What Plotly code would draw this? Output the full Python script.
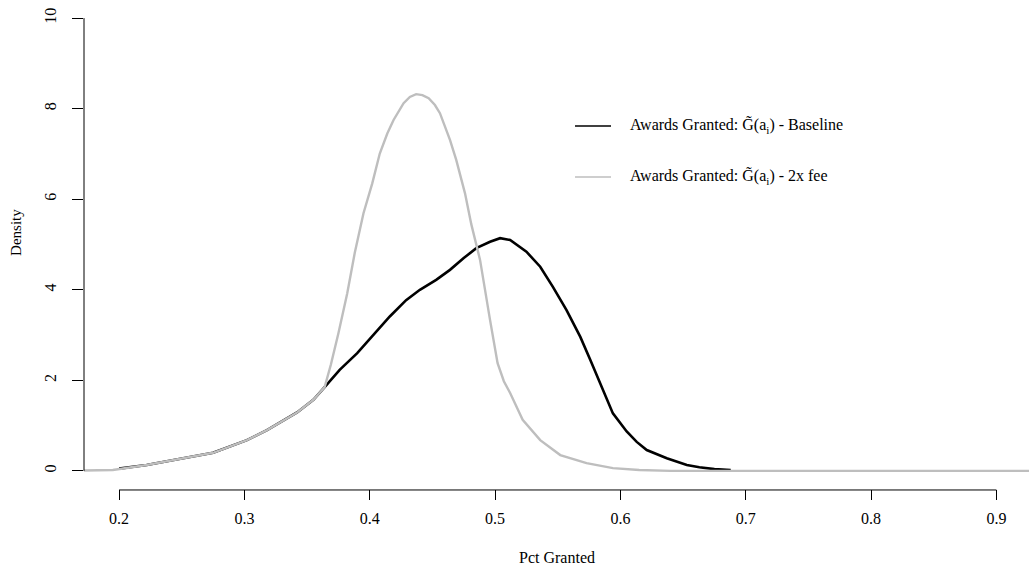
import plotly.graph_objects as go

# Baseline (black) density curve
base_x = [0.200, 0.222, 0.249, 0.275, 0.302, 0.318, 0.342, 0.355, 0.364, 0.376, 0.390,
          0.403, 0.416, 0.429, 0.440, 0.453, 0.464, 0.475, 0.485, 0.496, 0.504, 0.512,
          0.520, 0.525, 0.536, 0.546, 0.557, 0.568, 0.576, 0.584, 0.594, 0.605, 0.613,
          0.621, 0.637, 0.653, 0.663, 0.675, 0.688]
base_y = [0.05, 0.13, 0.27, 0.40, 0.68, 0.90, 1.29, 1.57, 1.85, 2.23, 2.60,
          3.00, 3.41, 3.77, 4.00, 4.22, 4.44, 4.70, 4.92, 5.06, 5.14, 5.10,
          4.95, 4.84, 4.51, 4.07, 3.55, 2.96, 2.45, 1.94, 1.27, 0.87, 0.64,
          0.46, 0.28, 0.13, 0.08, 0.04, 0.02]

# 2x fee (grey) density curve
fee_x = [0.150, 0.173, 0.195, 0.222, 0.249, 0.275, 0.302, 0.318, 0.342, 0.355, 0.364,
         0.369, 0.375, 0.382, 0.388, 0.395, 0.402, 0.408, 0.414, 0.419, 0.427,
         0.432, 0.437, 0.442, 0.447, 0.452, 0.456, 0.464, 0.469, 0.476, 0.481, 0.488,
         0.496, 0.502, 0.507, 0.512, 0.522, 0.536, 0.552, 0.573, 0.594, 0.615, 0.640,
         0.700, 0.950]
fee_y = [0.0, 0.01, 0.02, 0.13, 0.27, 0.40, 0.68, 0.90, 1.29, 1.57, 1.85,
         2.35, 3.04, 3.92, 4.81, 5.69, 6.35, 7.01, 7.45, 7.75, 8.12,
         8.26, 8.32, 8.30, 8.23, 8.08, 7.90, 7.31, 6.87, 6.13, 5.45, 4.66,
         3.33, 2.38, 1.98, 1.72, 1.13, 0.68, 0.35, 0.17, 0.06, 0.02, 0.0,
         0.0, 0.0]

x_ticks = [0.2, 0.3, 0.4, 0.5, 0.6, 0.7, 0.8, 0.9]
x_labels = ["0.2", "0.3", "0.4", "0.5", "0.6", "0.7", "0.8", "0.9"]
y_ticks = [0, 2, 4, 6, 8, 10]
y_labels = ["0", "2", "4", "6", "8", "10"]

legend_labels = ["Awards Granted: G\u0303(a<sub>i</sub>) - Baseline",
                 "Awards Granted: G\u0303(a<sub>i</sub>) - 2x fee"]

BLACK = "#000000"
GREY = "#bebebe"
FONT = "Liberation Serif"

fig = go.Figure()
fig.add_trace(go.Scatter(x=base_x, y=base_y, mode="lines",
                         line=dict(color=BLACK, width=2.6), showlegend=False))
fig.add_trace(go.Scatter(x=fee_x, y=fee_y, mode="lines",
                         line=dict(color=GREY, width=2.4), showlegend=False))

shapes = [
    dict(type="line", xref="paper", yref="y", x0=0, x1=0, y0=0, y1=10,
         line=dict(color=BLACK, width=1)),
    dict(type="line", xref="x", yref="paper", x0=0.2, x1=0.9, y0=-0.002, y1=-0.002,
         line=dict(color=BLACK, width=1)),
    dict(type="line", xref="paper", yref="paper", x0=0.5196, x1=0.5577, y0=0.7423, y1=0.7423,
         line=dict(color=BLACK, width=1.5)),
    dict(type="line", xref="paper", yref="paper", x0=0.5196, x1=0.5577, y0=0.638, y1=0.638,
         line=dict(color=GREY, width=1.5)),
]

annotations = [
    dict(text=legend_labels[0], xref="paper", yref="paper", x=0.5757, y=0.7423,
         xanchor="left", yanchor="middle", showarrow=False,
         font=dict(family=FONT, size=16, color=BLACK)),
    dict(text=legend_labels[1], xref="paper", yref="paper", x=0.5757, y=0.638,
         xanchor="left", yanchor="middle", showarrow=False,
         font=dict(family=FONT, size=16, color=BLACK)),
    dict(text="Density", xref="paper", yref="paper", x=-0.072, y=0.5256,
         xanchor="center", yanchor="middle", textangle=-90, showarrow=False,
         font=dict(family=FONT, size=15, color=BLACK)),
    dict(text="Pct Granted", xref="paper", yref="paper", x=0.5005, y=-0.141,
         xanchor="center", yanchor="middle", showarrow=False,
         font=dict(family=FONT, size=16, color=BLACK)),
]

fig.update_layout(
    width=1029, height=571,
    margin=dict(l=84, r=0, t=0, b=82),
    paper_bgcolor="white", plot_bgcolor="white",
    shapes=shapes, annotations=annotations,
    xaxis=dict(range=[0.172, 0.926], tickmode="array", tickvals=x_ticks, ticktext=x_labels,
               ticks="outside", ticklen=10, tickwidth=1, tickcolor=BLACK,
               showgrid=False, zeroline=False, showline=False,
               tickfont=dict(family=FONT, size=16, color=BLACK), ticklabelstandoff=5),
    yaxis=dict(range=[-0.4, 10.4], tickmode="array", tickvals=y_ticks, ticktext=y_labels,
               ticks="outside", ticklen=11, tickwidth=1, tickcolor=BLACK, tickangle=-90,
               showgrid=False, zeroline=False, showline=False,
               tickfont=dict(family=FONT, size=16, color=BLACK), ticklabelstandoff=10),
)

fig.write_html("out.html")
